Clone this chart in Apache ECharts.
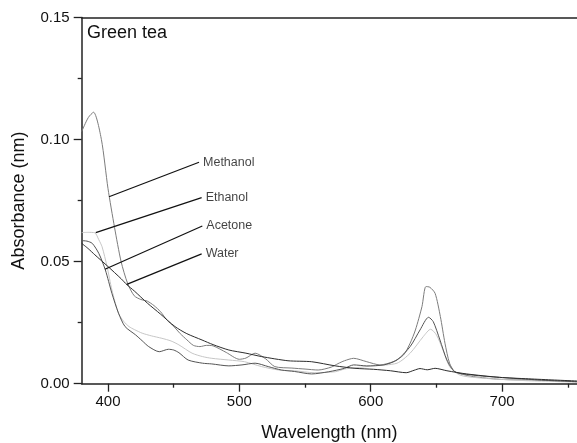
<!DOCTYPE html>
<html><head><meta charset="utf-8">
<script src="https://cdn.jsdelivr.net/npm/echarts@6/dist/echarts.min.js"></script>
<style>html,body{margin:0;padding:0;background:#fff}#c{width:577px;height:443px}</style>
</head><body><div id="c"></div>
<script>
// Wavelength (nm) / absorbance pairs
const methanolX = [380,385,389,395,400,405,410,415,420,425,430,435,440,445,450,455,460,465,470,475,480,490,500,505,512,520,527,540,550,560,570,575,580,587,597,607,617,625,630,634,639,642,645,649,653,656.5,660,664,670,678,698,720,740,757];
const methanolY = [0.1033,0.109,0.1112,0.100,0.080,0.064,0.050,0.041,0.036,0.0345,0.0338,0.032,0.0295,0.026,0.0235,0.0205,0.018,0.0157,0.0152,0.0157,0.0155,0.0128,0.0100,0.0105,0.0125,0.0102,0.0070,0.0064,0.0060,0.0056,0.0068,0.0082,0.0094,0.0104,0.0090,0.0077,0.0090,0.0118,0.0166,0.0220,0.0316,0.0398,0.0395,0.0370,0.0275,0.0166,0.0084,0.0049,0.0038,0.0029,0.0018,0.0015,0.0012,0.0009];

const ethanolX = [380,385,390,393,395.5,399.3,403,408,412,416,420,426,433,441,448,454,464,472,479,492,504,517,530,542,557,573,580,588,602,620,630,640,645.6,650,655,660,668,680,698,720,740,757];
const ethanolY = [0.0619,0.0620,0.0618,0.0590,0.0561,0.0480,0.0384,0.0289,0.0255,0.0234,0.0222,0.0207,0.0196,0.0186,0.0175,0.0159,0.0125,0.0111,0.0104,0.0097,0.0090,0.0070,0.0056,0.0053,0.0045,0.0049,0.0060,0.0065,0.0073,0.0084,0.0125,0.0193,0.0223,0.0200,0.0138,0.0070,0.0035,0.0025,0.0018,0.0012,0.0009,0.0006];

const acetoneX = [380,384,388,393,398,403,408,413,421,426,431,439,446,450,454,461,472,479,492,502,512,522,532,542,555,568,580,587,597,610,620,630,637.5,644,647.6,652.7,658,664,678,698,720,740,757];
const acetoneY = [0.0586,0.0584,0.0575,0.0534,0.0466,0.0370,0.0289,0.0234,0.0200,0.0176,0.0152,0.0131,0.0141,0.0138,0.0127,0.0097,0.0084,0.0081,0.0073,0.0077,0.0084,0.0070,0.0056,0.0050,0.0040,0.0049,0.0063,0.0077,0.0073,0.0077,0.0097,0.0152,0.0220,0.0272,0.0254,0.0179,0.0097,0.0049,0.0035,0.0026,0.0018,0.0012,0.0008];

const waterX = [380,385,390,400,410,414.5,420,430,440,451,460,471.6,480,492,505,517,537,555,573,588,602,615,627,633,637.5,643,649,658,673,698,720,740,757];
const waterY = [0.0575,0.0553,0.0528,0.0480,0.0430,0.0405,0.0380,0.0330,0.0285,0.0234,0.0205,0.0179,0.0160,0.0138,0.0125,0.0111,0.0094,0.0090,0.0073,0.0063,0.0059,0.0053,0.0045,0.0055,0.0062,0.0057,0.0063,0.0053,0.0040,0.0026,0.0020,0.0015,0.0011];

const seriesNames = ['Methanol','Ethanol','Acetone','Water'];
const annoStart = [[400.8,0.0766],[390.7,0.0619],[397.7,0.0469],[414.3,0.0407]];
const annoEnd = [[469.3,0.0907],[471.3,0.0762],[471.8,0.0646],[471.3,0.0532]];

const xMajorTicks = [400,500,600,700];
const xMinorTicks = [450,550,650,750];

const FONT = "'Liberation Sans', Arial, sans-serif";
const zip = (xs, ys) => xs.map((x, i) => [x, ys[i]]);
const colors = ['#7c7c7c','#c6c6c6','#545454','#2c2c2c'];
const dataSets = [zip(methanolX, methanolY), zip(ethanolX, ethanolY), zip(acetoneX, acetoneY), zip(waterX, waterY)];

const series = dataSets.map((d, i) => ({
  name: seriesNames[i], type: 'line', data: d, showSymbol: false, smooth: 0.25,
  lineStyle: {color: colors[i], width: 1}, z: 2, silent: true
}));
seriesNames.forEach((n, i) => {
  series.push({
    type: 'line', data: [annoStart[i], annoEnd[i]], showSymbol: false, silent: true,
    lineStyle: {color: '#111', width: 1.2}, z: 3
  });
  series.push({
    type: 'scatter', data: [annoEnd[i]], symbolSize: 0, silent: true,
    label: {show: true, position: 'right', distance: 4, formatter: n, color: '#111', fontSize: 12.5, fontFamily: FONT}
  });
});

const axisLineStyle = {color: '#222', width: 1.5};
const chart = echarts.init(document.getElementById('c'), null, {renderer: 'canvas'});
chart.setOption({
  animation: false,
  backgroundColor: '#fff',
  title: {text: 'Green tea', left: 87, top: 24, padding: 0,
    textStyle: {fontSize: 18, fontWeight: 'normal', color: '#111', fontFamily: FONT}},
  grid: {left: 81.7, right: 0, top: 17.5, bottom: 59.3, containLabel: false, outerBoundsMode: 'none'},
  xAxis: [
    {type: 'value', min: 380, max: 757, position: 'bottom',
      name: 'Wavelength (nm)', nameLocation: 'middle', nameGap: 40,
      nameTextStyle: {fontSize: 18, color: '#111', fontFamily: FONT},
      axisLine: {show: true, onZero: false, lineStyle: axisLineStyle},
      axisTick: {show: true, inside: false, length: 8, customValues: xMajorTicks, lineStyle: {color: '#222', width: 1.3}},
      axisLabel: {customValues: xMajorTicks, margin: 11, fontSize: 15, color: '#111', fontFamily: FONT},
      splitLine: {show: false}},
    {type: 'value', min: 380, max: 757, position: 'bottom',
      axisLine: {show: false},
      axisTick: {show: true, length: 4, customValues: xMinorTicks, lineStyle: {color: '#222', width: 1.3}},
      axisLabel: {show: false}, splitLine: {show: false}},
    {type: 'value', min: 380, max: 757, position: 'top',
      axisLine: {show: true, onZero: false, lineStyle: axisLineStyle},
      axisTick: {show: false}, axisLabel: {show: false}, splitLine: {show: false}}
  ],
  yAxis: {type: 'value', min: 0, max: 0.15, interval: 0.05,
    name: 'Absorbance (nm)', nameLocation: 'middle', nameGap: 54,
    nameTextStyle: {fontSize: 18, color: '#111', fontFamily: FONT},
    axisLine: {show: true, onZero: false, lineStyle: axisLineStyle},
    axisTick: {show: true, length: 8, lineStyle: {color: '#222', width: 1.3}},
    minorTick: {show: true, splitNumber: 2, length: 4, lineStyle: {color: '#222', width: 1.3}},
    axisLabel: {margin: 12, fontSize: 15, color: '#111', fontFamily: FONT, formatter: v => v.toFixed(2)},
    splitLine: {show: false}, minorSplitLine: {show: false}},
  series: series
});
</script></body></html>
